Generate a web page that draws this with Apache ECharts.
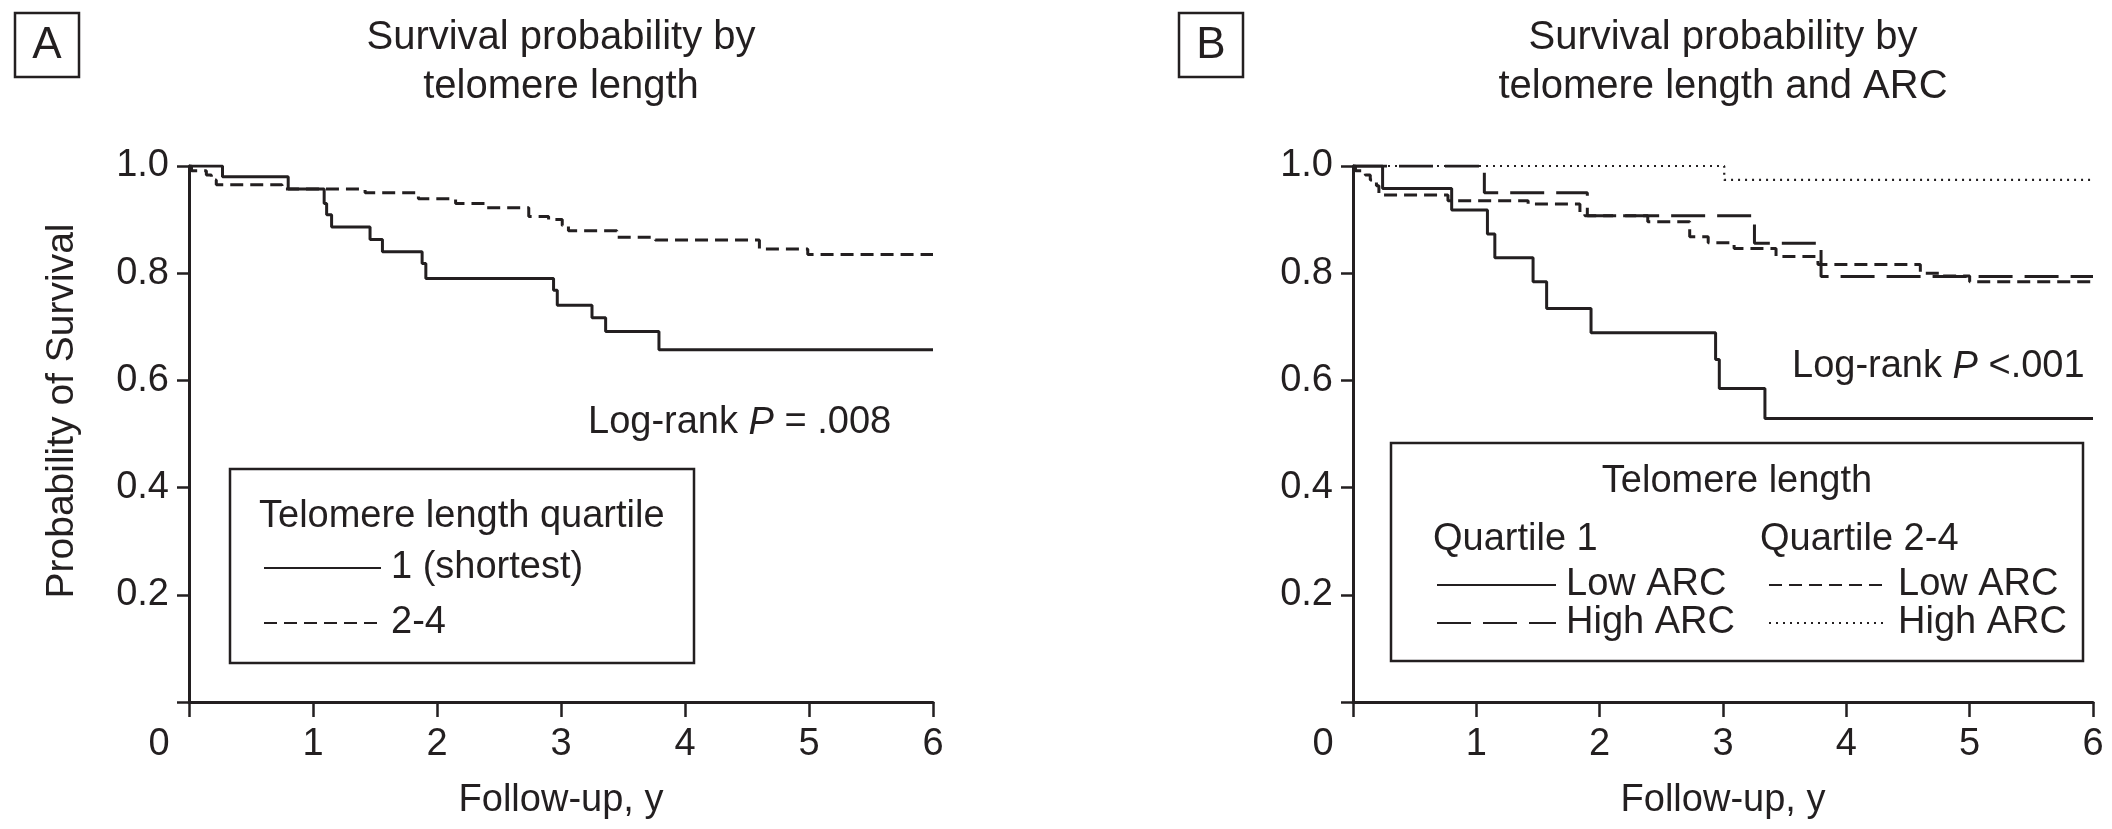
<!DOCTYPE html>
<html>
<head>
<meta charset="utf-8">
<script src="https://cdn.jsdelivr.net/npm/echarts@6/dist/echarts.min.js"></script>
<style>
  html, body { margin: 0; padding: 0; background: #fff; }
  #root { width: 2112px; height: 829px; }
</style>
</head>
<body>
<div id="root"></div>
<script>
// 字体和颜色
const FONT = '"Liberation Sans", Arial, Helvetica, sans-serif';
const INK = '#231f20';

// A: 按端粒长度四分位
const tA_q1 = [0, 0.27, 0.80, 1.09, 1.11, 1.15, 1.46, 1.56, 1.88, 1.91, 2.94, 2.97, 3.25, 3.36, 3.79, 6];
const sA_q1 = [1, 0.980, 0.957, 0.930, 0.909, 0.886, 0.863, 0.840, 0.818, 0.790, 0.768, 0.740, 0.717, 0.691, 0.657, 0.657];
const tA_q24 = [0, 0.02, 0.14, 0.18, 0.22, 0.75, 1.42, 1.85, 2.15, 2.40, 2.74, 2.90, 3.01, 3.06, 3.45, 3.76, 4.60, 4.99, 6];
const sA_q24 = [1, 0.991, 0.983, 0.974, 0.965, 0.957, 0.950, 0.939, 0.930, 0.922, 0.906, 0.900, 0.889, 0.879, 0.867, 0.862, 0.845, 0.835, 0.835];

// B: 端粒长度 + ARC
const tB_q1Low = [0, 0.24, 0.80, 1.09, 1.15, 1.46, 1.57, 1.93, 2.94, 2.97, 3.34, 6];
const sB_q1Low = [1, 0.958, 0.918, 0.873, 0.829, 0.784, 0.734, 0.689, 0.639, 0.585, 0.529, 0.529];
const tB_q1High = [0, 1.065, 1.90, 3.255, 3.795, 6];
const sB_q1High = [1, 0.950, 0.907, 0.856, 0.794, 0.794];
const tB_q24Low = [0, 0.02, 0.10, 0.14, 0.19, 0.21, 0.77, 1.42, 1.84, 1.88, 2.39, 2.73, 2.88, 3.09, 3.43, 3.77, 4.60, 4.75, 5.0, 6];
const sB_q24Low = [1, 0.991, 0.983, 0.974, 0.963, 0.946, 0.935, 0.929, 0.912, 0.907, 0.896, 0.868, 0.857, 0.846, 0.831, 0.816, 0.800, 0.795, 0.784, 0.784];
const tB_q24High = [0, 3.01, 6];
const sB_q24High = [1, 0.974, 0.974];

const xTicks = [0, 1, 2, 3, 4, 5, 6];
const yTicks = [0, 0.2, 0.4, 0.6, 0.8, 1.0];

const zip = (t, s) => t.map((v, i) => [v, s[i]]);

const chart = echarts.init(document.getElementById('root'));

function xAxisFor(g) {
  return {
    type: 'value', gridIndex: g, min: xTicks[0], max: xTicks[xTicks.length - 1], interval: 1,
    axisLine: { show: true, onZero: false, lineStyle: { color: INK, width: 3 } },
    axisTick: { show: true, length: 15, lineStyle: { color: INK, width: 2.5 } },
    axisLabel: {
      margin: 24, fontSize: 38, color: INK, fontFamily: FONT,
      formatter: v => v === 0 ? '{z|0}' : String(v),
      rich: { z: { fontSize: 38, color: INK, fontFamily: FONT, padding: [0, 60, 0, 0] } }
    },
    splitLine: { show: false },
    name: 'Follow-up, y', nameLocation: 'middle', nameGap: 80,
    nameTextStyle: { fontSize: 38, color: INK, fontFamily: FONT }
  };
}

function yAxisFor(g) {
  return {
    type: 'value', gridIndex: g, min: yTicks[0], max: yTicks[yTicks.length - 1], interval: 0.2,
    axisLine: { show: true, onZero: false, lineStyle: { color: INK, width: 3 } },
    axisTick: { show: true, length: 12, lineStyle: { color: INK, width: 2.5 } },
    axisLabel: {
      margin: 20, fontSize: 38, color: INK, fontFamily: FONT,
      formatter: v => v === 0 ? '' : v.toFixed(1)
    },
    splitLine: { show: false }
  };
}

function km(name, t, s, g, dash, width) {
  return {
    name: name, type: 'line', step: 'end', symbol: 'none', showSymbol: false,
    xAxisIndex: g, yAxisIndex: g,
    data: zip(t, s),
    lineStyle: { color: INK, width: width || 3, type: dash || 'solid' },
    itemStyle: { color: INK },
    emphasis: { disabled: true },
    animation: false
  };
}

const legendText = { fontSize: 38, color: INK, fontFamily: FONT, lineHeight: 38, padding: [0, 0, 0, 5] };
const shortName = n => n.replace(/^Q\S+ /, '');
const legendBase = {
  orient: 'vertical', itemHeight: 12, selectedMode: false,
  itemStyle: { opacity: 0, borderWidth: 0 },
  textStyle: legendText
};

const option = {
  backgroundColor: '#fff',
  animation: false,
  grid: [
    { left: 189, right: 1179, top: 166, bottom: 127 },
    { left: 1353, right: 19, top: 166, bottom: 127 }
  ],
  xAxis: [xAxisFor(0), xAxisFor(1)],
  yAxis: [yAxisFor(0), yAxisFor(1)],
  legend: [
    Object.assign({}, legendBase, {
      left: 258, top: 544, itemWidth: 117, itemGap: 17,
      data: ['1 (shortest)', '2-4']
    }),
    Object.assign({}, legendBase, {
      left: 1431, top: 561, itemWidth: 119, itemGap: 0,
      data: ['Q1 Low ARC', 'Q1 High ARC'], formatter: shortName
    }),
    Object.assign({}, legendBase, {
      left: 1763, top: 561, itemWidth: 119, itemGap: 0,
      data: ['Q2-4 Low ARC', 'Q2-4 High ARC'], formatter: shortName
    })
  ],
  series: [
    km('1 (shortest)', tA_q1, sA_q1, 0),
    km('2-4', tA_q24, sA_q24, 0, [13, 7]),
    km('Q1 Low ARC', tB_q1Low, sB_q1Low, 1),
    km('Q1 High ARC', tB_q1High, sB_q1High, 1, [34, 12]),
    km('Q2-4 Low ARC', tB_q24Low, sB_q24Low, 1, [13, 7]),
    km('Q2-4 High ARC', tB_q24High, sB_q24High, 1, [2, 5], 2.2)
  ],
  graphic: [
    // 面板标签
    { type: 'rect', shape: { x: 15, y: 13, width: 64, height: 64 }, style: { fill: 'none', stroke: INK, lineWidth: 2.5 } },
    { type: 'text', style: { text: 'A', x: 47, y: 46, fontSize: 44, fontFamily: FONT, fill: INK, align: 'center', verticalAlign: 'middle' } },
    { type: 'rect', shape: { x: 1179, y: 13, width: 64, height: 64 }, style: { fill: 'none', stroke: INK, lineWidth: 2.5 } },
    { type: 'text', style: { text: 'B', x: 1211, y: 46, fontSize: 44, fontFamily: FONT, fill: INK, align: 'center', verticalAlign: 'middle' } },
    // 标题
    { type: 'text', style: { text: 'Survival probability by\ntelomere length', x: 561, y: 62, fontSize: 40, lineHeight: 49, fontFamily: FONT, fill: INK, align: 'center', verticalAlign: 'middle' } },
    { type: 'text', style: { text: 'Survival probability by\ntelomere length and ARC', x: 1723, y: 62, fontSize: 40, lineHeight: 49, fontFamily: FONT, fill: INK, align: 'center', verticalAlign: 'middle' } },
    // y 轴名称
    { type: 'text', x: 62, y: 411, rotation: Math.PI / 2, style: { text: 'Probability of Survival', x: 0, y: 0, fontSize: 39, fontFamily: FONT, fill: INK, align: 'center', verticalAlign: 'middle' } },
    // Log-rank
    { type: 'text', style: {
      text: '{n|Log-rank }{i|P}{n| = .008}', x: 588, y: 423, verticalAlign: 'middle', align: 'left',
      rich: { n: { fontSize: 38, fontFamily: FONT, fill: INK }, i: { fontSize: 38, fontFamily: FONT, fontStyle: 'italic', fill: INK } }
    } },
    { type: 'text', style: {
      text: '{n|Log-rank }{i|P}{n| <.001}', x: 1792, y: 367, verticalAlign: 'middle', align: 'left',
      rich: { n: { fontSize: 38, fontFamily: FONT, fill: INK }, i: { fontSize: 38, fontFamily: FONT, fontStyle: 'italic', fill: INK } }
    } },
    // 图例框
    { type: 'rect', shape: { x: 230, y: 469, width: 464, height: 194 }, style: { fill: '#fff', stroke: INK, lineWidth: 2.5 }, z: -1 },
    { type: 'text', style: { text: 'Telomere length quartile', x: 259, y: 517, fontSize: 38, fontFamily: FONT, fill: INK, align: 'left', verticalAlign: 'middle' } },
    { type: 'rect', shape: { x: 1391, y: 443, width: 692, height: 218 }, style: { fill: '#fff', stroke: INK, lineWidth: 2.5 }, z: -1 },
    { type: 'text', style: { text: 'Telomere length', x: 1737, y: 482, fontSize: 38, fontFamily: FONT, fill: INK, align: 'center', verticalAlign: 'middle' } },
    { type: 'text', style: { text: 'Quartile 1', x: 1433, y: 540, fontSize: 38, fontFamily: FONT, fill: INK, align: 'left', verticalAlign: 'middle' } },
    { type: 'text', style: { text: 'Quartile 2-4', x: 1760, y: 540, fontSize: 38, fontFamily: FONT, fill: INK, align: 'left', verticalAlign: 'middle' } }
  ]
};

chart.setOption(option);
</script>
</body>
</html>
